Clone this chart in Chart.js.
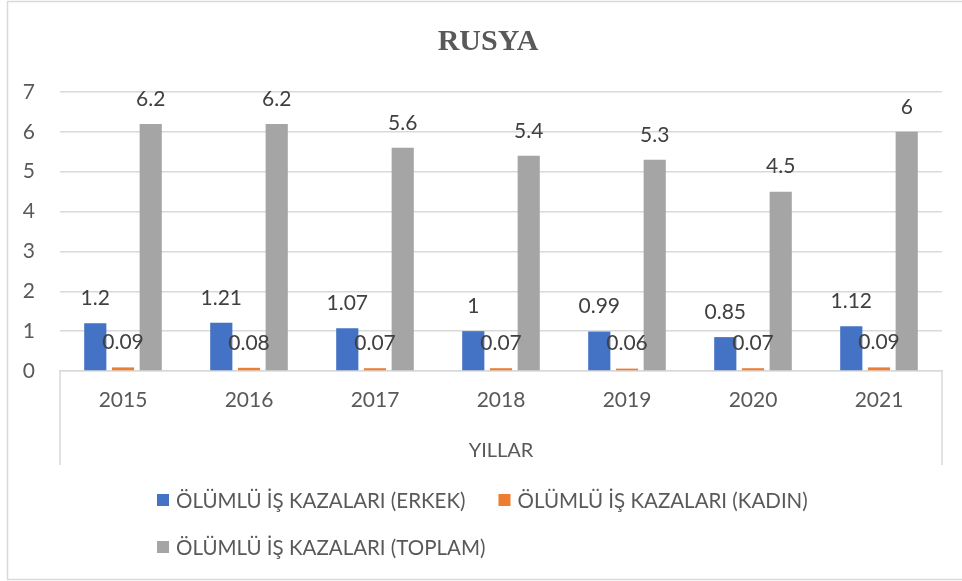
<!DOCTYPE html>
<html>
<head>
<meta charset="utf-8">
<script src="https://cdn.jsdelivr.net/npm/chart.js@4/dist/chart.umd.min.js"></script>
<style>
  html, body { margin: 0; padding: 0; background: #fff; }
  #wrap { width: 962px; height: 581px; }
</style>
</head>
<body>
<div id="wrap"><canvas id="c" width="962" height="581"></canvas></div>
<script>
// Russia: fatal occupational accidents by year
const years = ['2015', '2016', '2017', '2018', '2019', '2020', '2021'];
const erkek = [1.2, 1.21, 1.07, 1, 0.99, 0.85, 1.12];
const kadin = [0.09, 0.08, 0.07, 0.07, 0.06, 0.07, 0.09];
const toplam = [6.2, 6.2, 5.6, 5.4, 5.3, 4.5, 6];
const seriesNames = [
  'ÖLÜMLÜ İŞ KAZALARI (ERKEK)',
  'ÖLÜMLÜ İŞ KAZALARI (KADIN)',
  'ÖLÜMLÜ İŞ KAZALARI (TOPLAM)'
];
const chartTitle = 'RUSYA';
const axisTitle = 'YILLAR';
const yMin = 0, yMax = 7, yStep = 1;

const TEXT = '#595959';
const FONT = 'Lato, "Open Sans", sans-serif';

// white background + outer frame
const framePlugin = {
  id: 'frame',
  beforeDraw(chart) {
    const ctx = chart.ctx;
    ctx.save();
    ctx.fillStyle = '#fff';
    ctx.fillRect(0, 0, chart.width, chart.height);
    ctx.strokeStyle = '#d9d9d9';
    ctx.lineWidth = 1.5;
    ctx.strokeRect(7.5, 1.5, chart.width + 20, chart.height - 3);
    ctx.restore();
  }
};

// title, category box and legend
const decorPlugin = {
  id: 'decor',
  afterDraw(chart) {
    const ctx = chart.ctx;
    const area = chart.chartArea;
    ctx.save();
    // title
    ctx.font = 'bold 30px "Liberation Serif", "Times New Roman", serif';
    ctx.fillStyle = TEXT;
    ctx.textAlign = 'center';
    ctx.textBaseline = 'alphabetic';
    ctx.fillText(chartTitle, 488, 50);

    // side lines of the category box
    const xs = chart.scales.x;
    ctx.strokeStyle = '#d9d9d9';
    ctx.lineWidth = 1.5;
    ctx.beginPath();
    ctx.moveTo(area.left, area.bottom);
    ctx.lineTo(area.left, xs.bottom);
    ctx.moveTo(area.right, area.bottom);
    ctx.lineTo(area.right, xs.bottom);
    ctx.stroke();

    // legend
    ctx.font = '20.5px ' + FONT;
    ctx.textAlign = 'left';
    ctx.textBaseline = 'middle';
    const box = 12, gap = 7, itemGap = 33;
    const rows = [[0, 1], [2]];
    const rowY = [500, 547];
    rows.forEach((row, r) => {
      let x = 157;
      row.forEach(i => {
        const ds = chart.data.datasets[i];
        ctx.fillStyle = ds.backgroundColor;
        ctx.fillRect(x, rowY[r] - box / 2, box, box);
        ctx.fillStyle = TEXT;
        ctx.fillText(ds.label, x + box + gap, rowY[r] + 1);
        x += box + gap + ctx.measureText(ds.label).width + itemGap;
      });
    });
    ctx.restore();
  }
};

// value labels above every bar
const valueLabels = {
  id: 'valueLabels',
  afterDatasetsDraw(chart) {
    const ctx = chart.ctx;
    ctx.save();
    ctx.font = '21px ' + FONT;
    ctx.fillStyle = '#404040';
    ctx.textAlign = 'center';
    ctx.textBaseline = 'middle';
    chart.data.datasets.forEach((ds, di) => {
      chart.getDatasetMeta(di).data.forEach((bar, i) => {
        ctx.fillText(String(ds.data[i]), bar.x, bar.y - 25);
      });
    });
    ctx.restore();
  }
};

new Chart(document.getElementById('c'), {
  type: 'bar',
  data: {
    labels: years,
    datasets: [
      { label: seriesNames[0], data: erkek, backgroundColor: '#4472C4' },
      { label: seriesNames[1], data: kadin, backgroundColor: '#ED7D31' },
      { label: seriesNames[2], data: toplam, backgroundColor: '#A5A5A5' }
    ]
  },
  options: {
    responsive: false,
    animation: false,
    layout: { padding: { left: 0, right: 20, top: 92, bottom: 116 } },
    datasets: { bar: { categoryPercentage: 0.66, barPercentage: 0.8 } },
    plugins: {
      legend: { display: false },
      title: { display: false },
      tooltip: { enabled: false }
    },
    scales: {
      x: {
        grid: { display: false, drawTicks: false },
        border: { display: true, color: '#d9d9d9', width: 1.5 },
        ticks: { color: TEXT, font: { family: FONT, size: 21 }, padding: 17 },
        title: {
          display: true, text: axisTitle, color: TEXT,
          font: { family: FONT, size: 20 }, padding: { top: 0, bottom: 2 }
        },
        afterFit(s) { s.height = 94; }
      },
      y: {
        min: yMin, max: yMax,
        grid: { color: '#d9d9d9', lineWidth: 1.5, drawTicks: false },
        border: { display: false },
        ticks: { stepSize: yStep, color: TEXT, font: { family: FONT, size: 21 }, padding: 25 },
        afterFit(s) { s.width = 60; }
      }
    }
  },
  plugins: [framePlugin, valueLabels, decorPlugin]
});
</script>
</body>
</html>
